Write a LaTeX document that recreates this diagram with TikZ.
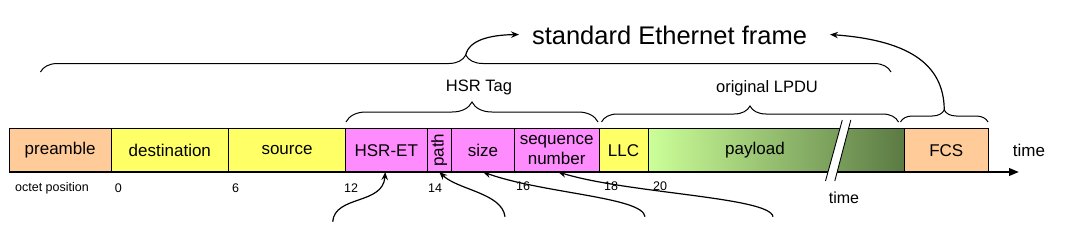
\documentclass[tikz,border=0pt]{standalone}
\usepackage{fontspec}
\setmainfont{Liberation Sans}
\usetikzlibrary{decorations.pathreplacing,arrows.meta}
\definecolor{peach}{HTML}{FFCC99}
\definecolor{yel}{HTML}{FFFF66}
\definecolor{pinkf}{HTML}{FF8CFF}
\definecolor{plight}{HTML}{CCFF99}
\definecolor{pdark}{HTML}{5B7A44}
\begin{document}
\begin{tikzpicture}[x=1pt,y=-1pt,
  field/.style={draw=black, line width=0.8pt, anchor=north west, inner sep=0pt, outer sep=0pt,
    minimum height=43.5pt, font=\fontsize{17}{19.5}\selectfont, align=center},
  octet/.style={font=\fontsize{12.5}{14}\selectfont, inner sep=0pt},
  bracestyle/.style={decorate, line width=1pt},
  conn/.style={line width=1.2pt, -{Stealth[length=8pt,width=6.5pt]}},
  lbl/.style={inner sep=0pt, font=\fontsize{16.5}{19}\selectfont}]
\useasboundingbox (0,0) rectangle (1080,233);

% fields
\node[field, fill=peach, minimum width=101.7pt] (pre) at (9.3,128.5) {preamble};
\node[field, fill=yel, minimum width=117.7pt] (dst) at (111,128.5) {destination};
\node[field, fill=yel, minimum width=116.7pt] (src) at (228.7,128.5) {source};
\node[field, fill=pinkf, minimum width=81.7pt] (et) at (345.4,128.5) {HSR-ET};
\node[field, fill=pinkf, minimum width=24.4pt] (pth) at (427.1,128.5) {\rotatebox{90}{path}};
\node[field, fill=pinkf, minimum width=62.8pt] (sz) at (451.5,128.5) {size};
\node[field, fill=pinkf, minimum width=84.7pt] (sq) at (514.3,128.5) {sequence\\number};
\node[field, fill=yel, minimum width=49pt] (llc) at (599,128.5) {LLC};
\node[field, left color=plight, right color=pdark, minimum width=256.3pt] (pl) at (648,128.5) {};
\node[field, fill=peach, minimum width=84pt] (fcs) at (904.3,128.5) {FCS};
\node[inner sep=0pt, font=\fontsize{17}{19.5}\selectfont] (pltxt) at (755,150.3) {payload};

% time axis
\coordinate (axend) at (1019,172);
\draw[line width=2.2pt, -{Triangle[length=10pt,width=7.5pt]}] (pre.south west) -- (axend);
\node[inner sep=0pt, font=\fontsize{17}{19.5}\selectfont] (time1) at (1029,150) {time};

% break mark
\coordinate (s1a) at (825.5,181);
\coordinate (s1b) at (842.3,120);
\coordinate (s2a) at (834.8,181);
\coordinate (s2b) at (850.8,120);
\fill[white] (s1a) -- (s1b) -- (s2b) -- (s2a) -- cycle;
\draw[line width=0.9pt] (s1a) -- (s1b);
\draw[line width=0.9pt] (s2a) -- (s2b);
\node[inner sep=0pt, font=\fontsize{16}{18}\selectfont] (time2) at (844,198) {time};

% octet positions
\node[octet] (op) at (52,188) {octet position};
\node[octet] (o0) at (118.3,188) {0};
\node[octet] (o6) at (235.5,188) {6};
\node[octet] (o12) at (351,188) {12};
\node[octet] (o14) at (435,188) {14};
\node[octet] (o16) at (523,186) {16};
\node[octet] (o18) at (611,186) {18};
\node[octet] (o20) at (660,186) {20};

% braces
\coordinate (bigL) at (40.5,72);
\coordinate (bigR) at (891,72);
\coordinate (bigtip) at (465.75,55);
\draw[bracestyle, decoration={brace, amplitude=17pt}] (bigL) -- (bigR);
\coordinate (hsrL) at (346,122);
\coordinate (hsrR) at (598,122);
\draw[bracestyle, decoration={brace, amplitude=20pt}] (hsrL) -- (hsrR);
\node[lbl] (hsrtag) at (479,87.5) {HSR Tag};
\coordinate (lpL) at (601.5,122);
\coordinate (lpR) at (898.5,122);
\draw[bracestyle, decoration={brace, amplitude=16pt}] (lpL) -- (lpR);
\node[lbl] (lpdu) at (767,88.5) {original LPDU};
\coordinate (fcL) at (900.5,122);
\coordinate (fcR) at (988,122);
\coordinate (fctip) at (944.25,110);
\draw[bracestyle, decoration={brace, amplitude=12pt}] (fcL) -- (fcR);

% title
\node[inner sep=0pt, font=\fontsize{25.5}{28}\selectfont] (std) at (669.5,35) {standard Ethernet frame};
\coordinate (stdL) at (519,34.5);
\coordinate (stdR) at (830,34.5);
\draw[conn] (bigtip) .. controls (469,40) and (490,35) .. (stdL);
\draw[conn] (fctip) .. controls (944,62) and (905,40) .. (stdR);

% bottom arrows
\coordinate (b1) at (332.7,221.7);
\coordinate (b2) at (505,216.7);
\coordinate (b3) at (645,216.7);
\coordinate (b4) at (773,216.7);
\draw[conn] (b1) .. controls (335,195) and (383,205) .. ([xshift=-1pt]et.south);
\draw[conn] (b2) .. controls (502,193) and (458,190) .. (pth.south);
\draw[conn] (b3) .. controls (643,197) and (543,193.5) .. (sz.south);
\draw[conn] (b4) .. controls (770,197) and (628,193.5) .. ([xshift=1.5pt]sq.south);
\end{tikzpicture}
\end{document}
